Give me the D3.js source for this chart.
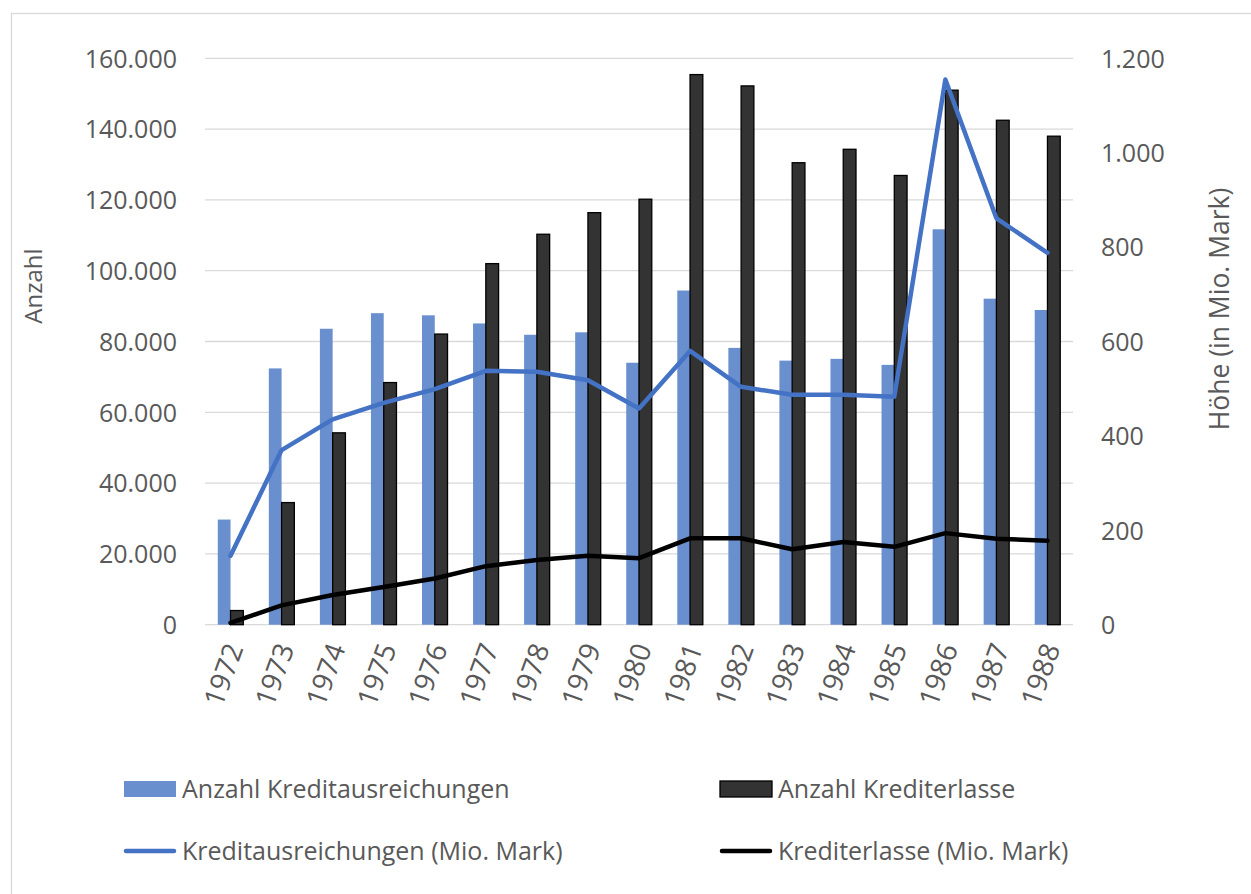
<!DOCTYPE html>
<html>
<head>
<meta charset="utf-8">
<script src="https://cdn.jsdelivr.net/npm/d3@7"></script>
<style>
    body { margin: 0; background: #fff; }
    text { font-family: "Open Sans", sans-serif; fill: #595959; }
</style>
</head>
<body>
<svg></svg>
<script>
//data
const years = ["1972", "1973", "1974", "1975", "1976", "1977", "1978", "1979", "1980",
               "1981", "1982", "1983", "1984", "1985", "1986", "1987", "1988"];
const anzahlAusreichungen = [29700, 72400, 83600, 88000, 87400, 85100, 81900, 82600, 74000,
                             94400, 78200, 74600, 75100, 73400, 111700, 92100, 88900];
const anzahlErlasse = [4000, 34500, 54200, 68400, 82100, 102000, 110300, 116400, 120200,
                       155400, 152200, 130500, 134300, 126900, 151000, 142500, 138000];
const hoeheAusreichungen = [146, 370, 435, 470, 499, 538, 536, 518, 458,
                            580, 504, 487, 487, 483, 1155, 861, 788];
const hoeheErlasse = [4, 41, 63, 80, 98, 124, 137, 146, 141,
                      183, 183, 160, 175, 165, 194, 182, 178];
const leftTicks = [0, 20000, 40000, 60000, 80000, 100000, 120000, 140000, 160000];
const rightTicks = [0, 200, 400, 600, 800, 1000, 1200];

//constants
const W = 1251, H = 894;
const plot = {left: 205, right: 1073, top: 58.3, bottom: 624.7};
const blue = "#6a8fcf", blueLine = "#4472c4", dark = "#333333";

const fmt = v => v === 0 ? "0" : d3.format(",")(v).replace(/,/g, ".");

let svg = d3.select("svg")
    .attr("width", W)
    .attr("height", H);

//frame
svg.append("rect")
    .attr("x", 11.5).attr("y", 13.5)
    .attr("width", W).attr("height", H)
    .style("fill", "none")
    .style("stroke", "#d9d9d9")
    .style("stroke-width", 1.3);

//scales
let x = d3.scaleBand()
    .domain(years)
    .range([plot.left, plot.right])
    .paddingInner(0.5)
    .paddingOuter(0.25);

let xSub = d3.scaleBand()
    .domain(["a", "b"])
    .range([0, x.bandwidth()]);

let yLeft = d3.scaleLinear()
    .domain([0, 160000])
    .range([plot.bottom, plot.top]);

let yRight = d3.scaleLinear()
    .domain([0, 1200])
    .range([plot.bottom, plot.top]);

//grid
svg.append("g")
    .attr("class", "grid")
    .selectAll("line")
    .data(leftTicks)
    .enter()
    .append("line")
    .attr("x1", plot.left)
    .attr("x2", plot.right)
    .attr("y1", d => yLeft(d))
    .attr("y2", d => yLeft(d))
    .style("stroke", "#d9d9d9")
    .style("stroke-width", 1.3);

//left axis
svg.append("g")
    .attr("transform", "translate(" + (plot.left - 28) + ",0)")
    .call(d3.axisLeft(yLeft).tickValues(leftTicks).tickFormat(fmt).tickSize(0))
    .call(g => g.select(".domain").remove())
    .selectAll("text")
    .attr("x", 0)
    .attr("dy", "0.35em")
    .style("font-size", "25px");

//right axis
svg.append("g")
    .attr("transform", "translate(" + (plot.right + 28) + ",0)")
    .call(d3.axisRight(yRight).tickValues(rightTicks).tickFormat(fmt).tickSize(0))
    .call(g => g.select(".domain").remove())
    .selectAll("text")
    .attr("x", 0)
    .attr("dy", "0.35em")
    .style("text-anchor", "start")
    .style("font-size", "25px");

//x labels
svg.append("g")
    .selectAll("text")
    .data(years)
    .enter()
    .append("text")
    .attr("transform", d => "translate(" + (x(d) + x.bandwidth() / 2 + 4) + "," + (plot.bottom + 20) + ") rotate(-70)")
    .attr("dy", "0.35em")
    .style("text-anchor", "end")
    .style("font-size", "28px")
    .text(d => d);

//axis titles
svg.append("text")
    .attr("transform", "translate(42,286) rotate(-90)")
    .style("text-anchor", "middle")
    .style("font-size", "24px")
    .text("Anzahl");

svg.append("text")
    .attr("transform", "translate(1229,309) rotate(-90)")
    .style("text-anchor", "middle")
    .style("font-size", "26.5px")
    .text("Höhe (in Mio. Mark)");

//bars
let chart = svg.append("g").attr("class", "chart");

chart.selectAll(".bar-a")
    .data(years)
    .enter()
    .append("rect")
    .attr("class", "bar-a")
    .attr("x", d => x(d) + xSub("a"))
    .attr("y", (d, i) => yLeft(anzahlAusreichungen[i]))
    .attr("width", xSub.bandwidth())
    .attr("height", (d, i) => yLeft(0) - yLeft(anzahlAusreichungen[i]))
    .style("fill", blue);

chart.selectAll(".bar-b")
    .data(years)
    .enter()
    .append("rect")
    .attr("class", "bar-b")
    .attr("x", d => x(d) + xSub("b"))
    .attr("y", (d, i) => yLeft(anzahlErlasse[i]))
    .attr("width", xSub.bandwidth())
    .attr("height", (d, i) => yLeft(0) - yLeft(anzahlErlasse[i]))
    .style("fill", dark)
    .style("stroke", "#000")
    .style("stroke-width", 1.3);

//lines
const cx = d => x(d) + x.bandwidth() / 2;

chart.append("path")
    .datum(years)
    .attr("d", d3.line().x(cx).y((d, i) => yRight(hoeheAusreichungen[i])))
    .style("fill", "none")
    .style("stroke", blueLine)
    .style("stroke-width", 4.5)
    .style("stroke-linejoin", "round")
    .style("stroke-linecap", "round");

chart.append("path")
    .datum(years)
    .attr("d", d3.line().x(cx).y((d, i) => yRight(hoeheErlasse[i])))
    .style("fill", "none")
    .style("stroke", "#000")
    .style("stroke-width", 4.5)
    .style("stroke-linejoin", "round")
    .style("stroke-linecap", "round");

//legend
const legendItems = [
    {label: "Anzahl Kreditausreichungen", type: "rect", color: blue, x: 124, y: 789},
    {label: "Anzahl Krediterlasse", type: "rect", color: dark, x: 720, y: 789},
    {label: "Kreditausreichungen (Mio. Mark)", type: "line", color: blueLine, x: 124, y: 851},
    {label: "Krediterlasse (Mio. Mark)", type: "line", color: "#000", x: 720, y: 851}
];

let legend = svg.append("g").attr("class", "legend");

legendItems.forEach(function(item) {
    if (item.type === "rect") {
        legend.append("rect")
            .attr("x", item.x)
            .attr("y", item.y - 8)
            .attr("width", 52)
            .attr("height", 16)
            .style("fill", item.color)
            .style("stroke", item.color === dark ? "#000" : "none")
            .style("stroke-width", 1.3);
    } else {
        legend.append("line")
            .attr("x1", item.x + 2)
            .attr("x2", item.x + 50)
            .attr("y1", item.y)
            .attr("y2", item.y)
            .style("stroke", item.color)
            .style("stroke-width", 4.5)
            .style("stroke-linecap", "round");
    }
    legend.append("text")
        .attr("x", item.x + 58)
        .attr("y", item.y)
        .attr("dy", "0.35em")
        .style("font-size", "25px")
        .text(item.label);
});
</script>
</body>
</html>
